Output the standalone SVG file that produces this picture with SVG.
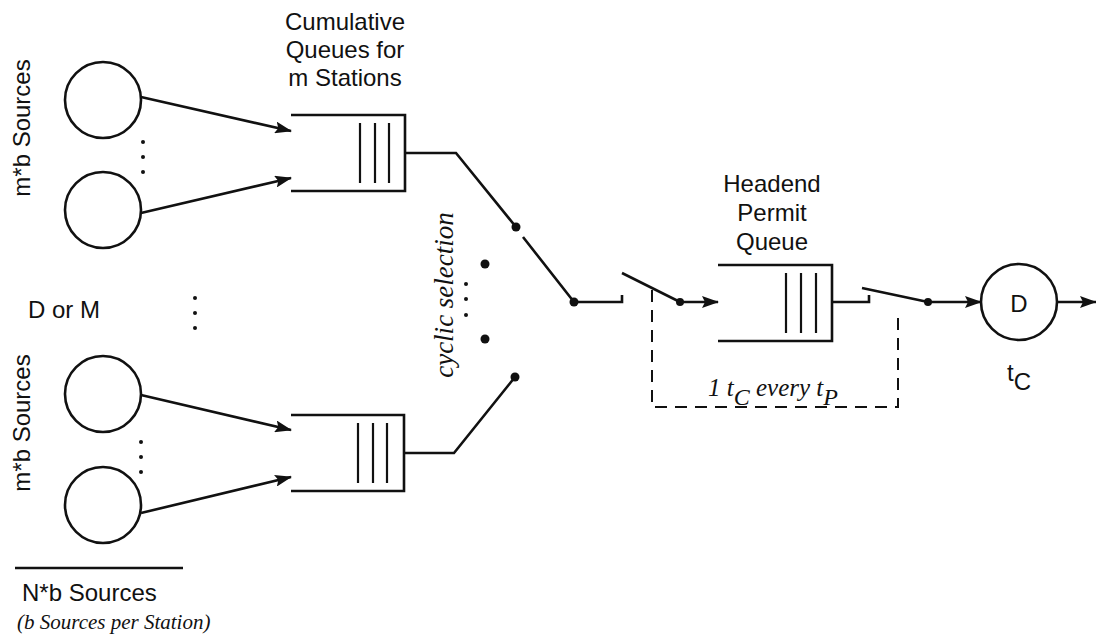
<svg xmlns="http://www.w3.org/2000/svg" width="1096" height="636" viewBox="0 0 1096 636">
<style>
.sans{font-family:"Liberation Sans",Arial,sans-serif;font-size:24px;fill:#111}
.serif{font-family:"Liberation Serif","Times New Roman",serif;font-style:italic;fill:#111}
.ln{fill:none;stroke:#111;stroke-width:2.6;stroke-linecap:butt}
.bar{fill:none;stroke:#111;stroke-width:2.2}
.circ{fill:#fff;stroke:#111;stroke-width:2.6}
.dash{fill:none;stroke:#111;stroke-width:2;stroke-dasharray:12 8}
.dot{fill:#111}
</style>
<defs>
<marker id="ah" markerWidth="17" markerHeight="12" refX="16" refY="6" orient="auto" markerUnits="userSpaceOnUse">
<path d="M0,0 L17,6 L0,12 L3,6 Z" fill="#111"/>
</marker>
</defs>
<rect width="1096" height="636" fill="#fff"/>

<g id="sources-top">
<circle class="circ" cx="103" cy="100" r="38"/>
<circle class="circ" cx="103" cy="210" r="38"/>
<circle class="dot" cx="143" cy="142" r="2"/>
<circle class="dot" cx="143" cy="157" r="2"/>
<circle class="dot" cx="143" cy="172" r="2"/>
<text class="sans" font-size="25" transform="translate(30,128) rotate(-90)" text-anchor="middle">m*b Sources</text>
</g>

<g id="sources-bottom">
<circle class="circ" cx="103" cy="394" r="38"/>
<circle class="circ" cx="103" cy="505" r="38"/>
<circle class="dot" cx="141" cy="442" r="2"/>
<circle class="dot" cx="141" cy="457" r="2"/>
<circle class="dot" cx="141" cy="472" r="2"/>
<text class="sans" font-size="25" transform="translate(30,423) rotate(-90)" text-anchor="middle">m*b Sources</text>
</g>

<g id="dorm">
<text class="sans" font-size="25" x="28" y="318">D or M</text>
<circle class="dot" cx="195" cy="298" r="2"/>
<circle class="dot" cx="195" cy="313" r="2"/>
<circle class="dot" cx="195" cy="328" r="2"/>
</g>

<g id="total">
<line class="ln" x1="15" y1="568" x2="183" y2="568" stroke-width="2"/>
<text class="sans" font-size="25" x="22" y="601">N*b Sources</text>
<text class="serif" x="17" y="629" font-size="21">(b Sources per Station)</text>
</g>

<g id="queue-top">
<text class="sans" x="345" y="30" text-anchor="middle">Cumulative</text>
<text class="sans" x="345" y="58" text-anchor="middle">Queues for</text>
<text class="sans" x="345" y="86" text-anchor="middle">m Stations</text>
<path class="ln" d="M291,115 H405 V191 H291"/>
<line class="bar" x1="360" y1="123" x2="360" y2="183"/>
<line class="bar" x1="375" y1="123" x2="375" y2="183"/>
<line class="bar" x1="389" y1="123" x2="389" y2="183"/>
</g>

<g id="queue-bottom">
<path class="ln" d="M291,415 H404 V491 H291"/>
<line class="bar" x1="358" y1="423" x2="358" y2="483"/>
<line class="bar" x1="373" y1="423" x2="373" y2="483"/>
<line class="bar" x1="387" y1="423" x2="387" y2="483"/>
</g>

<g id="selector">
<text class="serif" font-size="27" transform="translate(453,295) rotate(-90)" text-anchor="middle">cyclic selection</text>
<circle class="dot" cx="516" cy="227" r="4.5"/>
<circle class="dot" cx="485" cy="264" r="4.5"/>
<circle class="dot" cx="485" cy="339" r="4.5"/>
<circle class="dot" cx="515" cy="377" r="4.5"/>
<circle class="dot" cx="466" cy="284" r="2"/>
<circle class="dot" cx="466" cy="299" r="2"/>
<circle class="dot" cx="466" cy="315" r="2"/>
<circle class="dot" cx="574" cy="302" r="4.5"/>
</g>

<g id="headend-queue">
<text class="sans" font-size="25" x="772" y="192" text-anchor="middle">Headend</text>
<text class="sans" font-size="25" x="772" y="221" text-anchor="middle">Permit</text>
<text class="sans" font-size="25" x="772" y="250" text-anchor="middle">Queue</text>
<path class="ln" d="M718,265 H832 V341 H718"/>
<line class="bar" x1="786" y1="273" x2="786" y2="333"/>
<line class="bar" x1="801" y1="273" x2="801" y2="333"/>
<line class="bar" x1="816" y1="273" x2="816" y2="333"/>
<circle class="dot" cx="680" cy="302" r="4"/>
<circle class="dot" cx="928" cy="302" r="4"/>
<text class="serif" font-size="25" x="708" y="396">1 t<tspan font-size="24" dy="9">C</tspan><tspan dy="-9"> every t</tspan><tspan font-size="24" dy="9">P</tspan></text>
</g>

<g id="server">
<circle class="circ" cx="1019" cy="302" r="38"/>
<text class="sans" x="1019" y="312" text-anchor="middle" font-size="27">D</text>
<text class="sans" font-size="26" x="1007" y="381">t<tspan font-size="24" dy="9">C</tspan></text>
</g>

<g id="connectors">
<line class="ln" x1="141" y1="97" x2="291" y2="131" marker-end="url(#ah)"/>
<line class="ln" x1="141" y1="213" x2="291" y2="178" marker-end="url(#ah)"/>
<line class="ln" x1="141" y1="395" x2="291" y2="430" marker-end="url(#ah)"/>
<line class="ln" x1="141" y1="513" x2="291" y2="477" marker-end="url(#ah)"/>
<path class="ln" d="M405,153 H456 L516,227"/>
<path class="ln" d="M404,453 H454 L515,377"/>
<path class="ln" d="M523,237 L574,302 H622 V295"/>
<line class="ln" x1="622" y1="273" x2="680" y2="302"/>
<line class="ln" x1="680" y1="302" x2="718" y2="302" marker-end="url(#ah)"/>
<path class="ln" d="M832,302 H869 V295"/>
<line class="ln" x1="862" y1="288" x2="928" y2="302"/>
<line class="ln" x1="928" y1="302" x2="981" y2="302" marker-end="url(#ah)"/>
<line class="ln" x1="1057" y1="302" x2="1096" y2="302" marker-end="url(#ah)"/>
<path class="dash" d="M652,290 V407 H898 V310"/>
</g>
</svg>
